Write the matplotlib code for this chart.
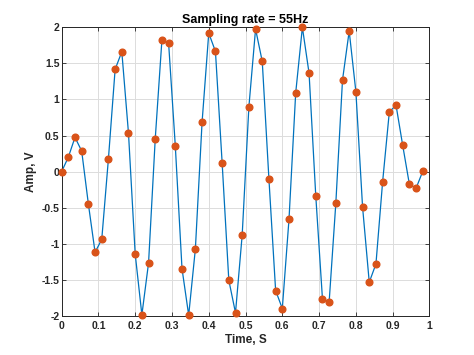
import matplotlib
matplotlib.use("Agg")
import matplotlib.pyplot as plt
import numpy as np

plt.rcParams['font.family'] = ['Liberation Sans', 'DejaVu Sans']

fs = 55
t = np.arange(55) / fs
amp = [0.0, 0.20, 0.475, 0.286, -0.448, -1.117, -0.94, 0.18, 1.417, 1.662,
       0.531, -1.14, -1.985, -1.265, 0.457, 1.828, 1.777, 0.355, -1.343, -1.99,
       -1.071, 0.683, 1.92, 1.667, 0.125, -1.505, -1.957, -0.877, 0.896, 1.976,
       1.528, -0.106, -1.648, -1.897, -0.66, 1.09, 2.0, 1.365, -0.332, -1.76,
       -1.81, -0.44, 1.27, 1.948, 1.108, -0.49, -1.533, -1.279, -0.139, 0.826,
       0.923, 0.365, -0.175, -0.231, 0.005]
xticks = np.arange(0, 1.01, 0.1)
yticks = np.arange(-2, 2.01, 0.5)

fig = plt.figure(figsize=(4.74, 3.55), dpi=100)
ax = fig.add_axes([0.130, 0.110, 0.776, 0.813])

ax.plot(t, amp, color='#0072BD', linewidth=0.9, zorder=2)
ax.plot(t, amp, 'o', color='#D95319', markersize=4.8, zorder=3, clip_on=False)

ax.set_xlim(0, 1)
ax.set_ylim(-2, 2)
ax.set_xticks(xticks)
ax.set_xticklabels([f"{v:g}" for v in np.round(xticks, 1)])
ax.set_yticks(yticks)
ax.set_yticklabels([f"{v:g}" for v in yticks])
ax.grid(True, color='#dcdcdc', linewidth=0.7)
ax.set_axisbelow(True)
ax.tick_params(direction='in', length=3, labelsize=7.5, width=0.6, color='#262626',
               labelcolor='#262626', top=True, right=True)
ax.tick_params(axis='y', pad=1.5)
for lbl in ax.get_xticklabels() + ax.get_yticklabels():
    lbl.set_fontweight('bold')
for s in ax.spines.values():
    s.set_linewidth(0.7)
    s.set_color('#262626')

ax.set_title("Sampling rate = 55Hz", fontsize=9, fontweight='bold', pad=3)
ax.set_xlabel("Time, S", fontsize=8.5, fontweight='bold', color='#262626', labelpad=2)
ax.set_ylabel("Amp, V", fontsize=8.5, fontweight='bold', color='#262626', labelpad=3)

fig.savefig("out.png", dpi=100, facecolor='white')
